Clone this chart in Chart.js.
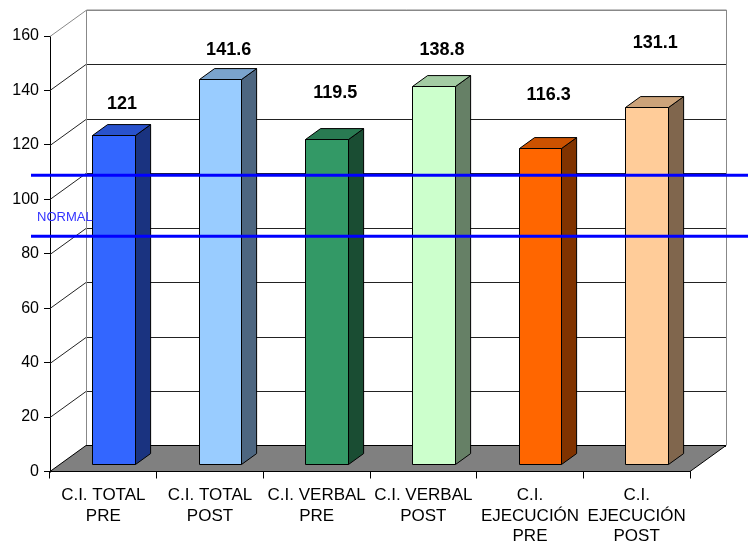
<!DOCTYPE html>
<html lang="es">
<head>
    <meta charset="UTF-8">
    <title>C.I. Pre / Post</title>
    <script src="https://cdn.jsdelivr.net/npm/chart.js@4/dist/chart.umd.min.js"></script>
    <style>
        html, body { margin: 0; padding: 0; background: #fff; }
        #wrap { width: 748px; height: 543px; }
    </style>
</head>
<body>
    <div id="wrap"><canvas id="ci-chart" width="748" height="543"></canvas></div>

    <script>
        // datos
        const categories = [
            ['C.I. TOTAL', 'PRE'],
            ['C.I. TOTAL', 'POST'],
            ['C.I. VERBAL', 'PRE'],
            ['C.I. VERBAL', 'POST'],
            ['C.I.', 'EJECUCIÓN', 'PRE'],
            ['C.I.', 'EJECUCIÓN', 'POST']
        ];
        const values = [121, 141.6, 119.5, 138.8, 116.3, 131.1];
        const valueLabels = ['121', '141.6', '119.5', '138.8', '116.3', '131.1'];
        // altura (en unidades del eje) donde esta cada etiqueta
        const labelHeights = [135, 155, 139.1, 155, 138.3, 157.4];
        const yTicks = [0, 20, 40, 60, 80, 100, 120, 140, 160];
        const normalBand = [86.4, 108.8];
        const normalText = 'NORMAL';

        const barColors = ['#3366FF', '#99CCFF', '#339966', '#CCFFCC', '#FF6600', '#FFCC99'];

        const FONT = 'Arial, "Liberation Sans", sans-serif';
        const DEPTH_X = 36, DEPTH_Y = 26;     // profundidad de la caja 3D
        const BAR_SHIFT = 0.28;               // posicion de la barra dentro de la profundidad
        const BAR_DEPTH = 0.42;

        function shade(hex, k) {
            const n = parseInt(hex.slice(1), 16);
            const r = Math.round(((n >> 16) & 255) * k);
            const g = Math.round(((n >> 8) & 255) * k);
            const b = Math.round((n & 255) * k);
            return `rgb(${r},${g},${b})`;
        }

        function poly(ctx, pts, fill, stroke) {
            ctx.beginPath();
            ctx.moveTo(pts[0][0], pts[0][1]);
            for (let i = 1; i < pts.length; i++) ctx.lineTo(pts[i][0], pts[i][1]);
            ctx.closePath();
            if (fill) { ctx.fillStyle = fill; ctx.fill(); }
            if (stroke) { ctx.strokeStyle = stroke; ctx.lineWidth = 1; ctx.stroke(); }
        }

        const box3d = {
            id: 'box3d',
            beforeDatasetsDraw(chart) {
                const ctx = chart.ctx;
                const { left, right, top, bottom } = chart.chartArea;
                const y = chart.scales.y;
                ctx.save();
                // paredes
                poly(ctx, [[left + DEPTH_X, top - DEPTH_Y], [right + DEPTH_X, top - DEPTH_Y],
                           [right + DEPTH_X, bottom - DEPTH_Y], [left + DEPTH_X, bottom - DEPTH_Y]], '#fff', null);
                // lineas de division
                yTicks.forEach(v => {
                    const py = Math.round(y.getPixelForValue(v)) + 0.5;
                    ctx.beginPath();
                    ctx.moveTo(left, py);
                    ctx.lineTo(left + DEPTH_X, py - DEPTH_Y);
                    ctx.lineTo(right + DEPTH_X, py - DEPTH_Y);
                    ctx.strokeStyle = v === 160 ? '#888' : '#222';
                    ctx.lineWidth = 1;
                    ctx.stroke();
                });
                // marco gris
                ctx.beginPath();
                ctx.moveTo(left + DEPTH_X + 0.5, bottom - DEPTH_Y);
                ctx.lineTo(left + DEPTH_X + 0.5, top - DEPTH_Y);
                ctx.lineTo(right + DEPTH_X + 0.5, top - DEPTH_Y);
                ctx.lineTo(right + DEPTH_X + 0.5, bottom - DEPTH_Y);
                ctx.strokeStyle = '#888';
                ctx.stroke();
                // suelo
                poly(ctx, [[left, bottom], [left + DEPTH_X, bottom - DEPTH_Y],
                           [right + DEPTH_X, bottom - DEPTH_Y], [right, bottom]], '#808080', '#000');
                ctx.restore();
            },
            afterDatasetsDraw(chart) {
                const ctx = chart.ctx;
                const meta = chart.getDatasetMeta(0);
                const sx = DEPTH_X * BAR_SHIFT, sy = DEPTH_Y * BAR_SHIFT;
                const dx = DEPTH_X * BAR_DEPTH, dy = DEPTH_Y * BAR_DEPTH;
                ctx.save();
                meta.data.forEach((el, i) => {
                    const x0 = Math.round(el.x - el.width / 2 + sx) + 0.5;
                    const x1 = Math.round(el.x + el.width / 2 + sx) + 0.5;
                    const t = Math.round(el.y - sy) + 0.5;
                    const b = Math.round(el.base - sy) + 0.5;
                    const c = barColors[i];
                    poly(ctx, [[x1, t], [x1 + dx, t - dy], [x1 + dx, b - dy], [x1, b]], shade(c, 0.5), '#000');
                    poly(ctx, [[x0, t], [x0 + dx, t - dy], [x1 + dx, t - dy], [x1, t]], shade(c, 0.8), '#000');
                    poly(ctx, [[x0, t], [x1, t], [x1, b], [x0, b]], c, '#000');
                });
                ctx.restore();
            },
            afterDraw(chart) {
                const ctx = chart.ctx;
                const y = chart.scales.y;
                const meta = chart.getDatasetMeta(0);
                ctx.save();
                // etiquetas de valor
                ctx.font = `bold 18px ${FONT}`;
                ctx.fillStyle = '#000';
                ctx.textAlign = 'center';
                ctx.textBaseline = 'middle';
                meta.data.forEach((el, i) => {
                    const cx = el.x + DEPTH_X * BAR_SHIFT + DEPTH_X * BAR_DEPTH / 2 + 1;
                    ctx.fillText(valueLabels[i], cx, y.getPixelForValue(labelHeights[i]));
                });
                // banda normal
                ctx.strokeStyle = '#0000FF';
                ctx.lineWidth = 3;
                normalBand.forEach(v => {
                    const py = y.getPixelForValue(v);
                    ctx.beginPath();
                    ctx.moveTo(31, py);
                    ctx.lineTo(chart.width, py);
                    ctx.stroke();
                });
                ctx.font = `13px ${FONT}`;
                ctx.fillStyle = '#3333FF';
                ctx.textAlign = 'left';
                ctx.fillText(normalText, 37, y.getPixelForValue(normalBand[0]) - 19);
                ctx.restore();
            }
        };

        new Chart(document.getElementById('ci-chart'), {
            type: 'bar',
            data: {
                labels: categories,
                datasets: [{
                    data: values,
                    backgroundColor: 'rgba(0,0,0,0)',
                    borderWidth: 0,
                    categoryPercentage: 1,
                    barPercentage: 0.4
                }]
            },
            options: {
                responsive: false,
                animation: false,
                layout: { padding: { top: 36, right: 58, left: 0, bottom: 0 } },
                plugins: { legend: { display: false }, tooltip: { enabled: false } },
                scales: {
                    x: {
                        grid: { offset: true, drawOnChartArea: false, tickLength: 7, color: '#000' },
                        border: { display: true, color: '#000' },
                        ticks: {
                            color: '#000',
                            font: { family: FONT, size: 17, lineHeight: 1.2 },
                            padding: 7,
                            maxRotation: 0,
                            autoSkip: false
                        },
                        afterFit(scale) { scale.height = 71.5; }
                    },
                    y: {
                        min: 0,
                        max: 160,
                        afterBuildTicks(scale) { scale.ticks = yTicks.map(v => ({ value: v })); },
                        grid: { drawOnChartArea: false, tickLength: 6, color: '#000' },
                        border: { display: true, color: '#000' },
                        ticks: {
                            color: '#000',
                            font: { family: FONT, size: 16 },
                            padding: 5
                        },
                        afterFit(scale) { scale.width = 50; }
                    }
                }
            },
            plugins: [box3d]
        });
    </script>
</body>
</html>
